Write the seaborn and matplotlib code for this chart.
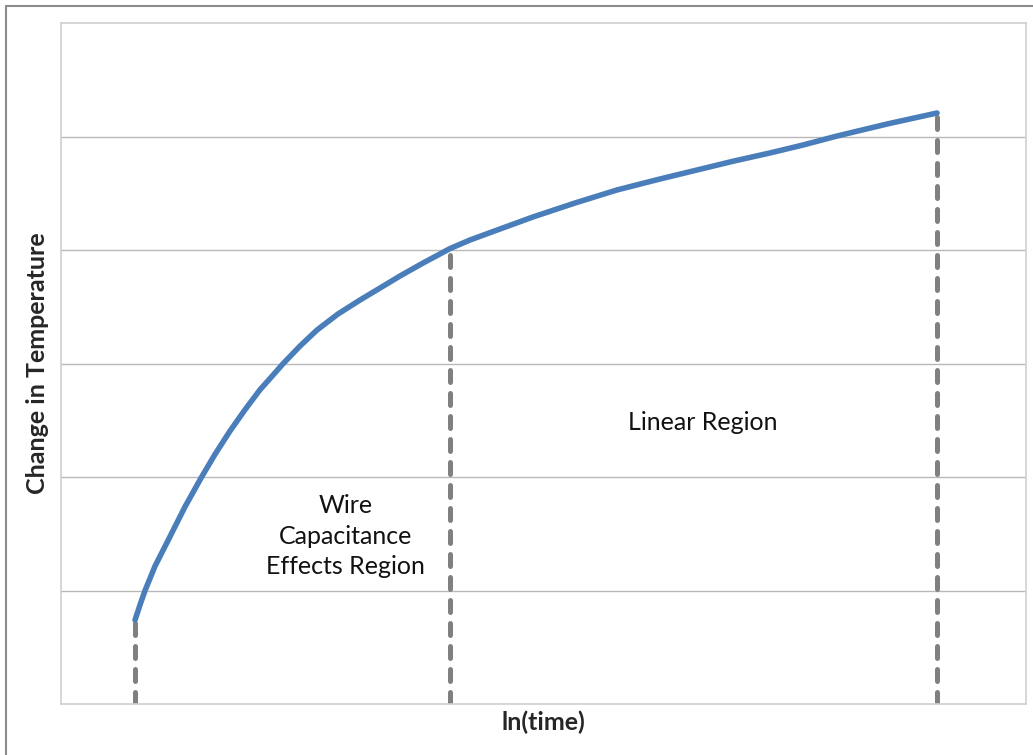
import matplotlib
matplotlib.use("Agg")
import matplotlib.pyplot as plt
from matplotlib.lines import Line2D
import seaborn as sns
import pandas as pd

# Temperature rise vs ln(time) for a transient hot-wire measurement
ln_time = [0.767, 0.819, 0.870, 0.974, 1.130, 1.285, 1.451, 1.596, 1.751,
           1.907, 2.062, 2.187, 2.301, 2.477, 2.653, 2.870, 3.098, 3.306,
           3.513, 3.751, 4.030, 4.238, 4.549, 4.891, 5.326, 5.762, 6.176,
           6.591, 6.964, 7.347, 7.689, 8.041, 8.560, 9.078]
delta_temp = [0.740, 0.874, 0.998, 1.214, 1.476, 1.738, 1.991, 2.200, 2.405,
              2.593, 2.769, 2.888, 2.998, 3.154, 3.295, 3.436, 3.559, 3.665,
              3.771, 3.885, 4.012, 4.088, 4.185, 4.291, 4.414, 4.529, 4.619,
              4.705, 4.782, 4.855, 4.925, 5.004, 5.110, 5.207]

# region boundaries (start, end of capacitance region, end of data)
boundaries = [0.767, 4.030, 9.078]
boundary_temps = [0.740, 4.012, 5.207]

region_labels = ["Wire\nCapacitance\nEffects Region", "Linear Region"]
x_label = "ln(time)"
y_label = "Change in Temperature"
y_grid = [1, 2, 3, 4, 5]

sns.set_style("whitegrid", {"grid.color": "#b8b8b8", "axes.edgecolor": "#d0d0d0"})
plt.rcParams["font.family"] = ["Lato", "DejaVu Sans"]

fig = plt.figure(figsize=(10.33, 7.55), dpi=100)
ax = fig.add_axes([61 / 1033, 51 / 755, 965 / 1033, 681 / 755])

df = pd.DataFrame({"ln_time": ln_time, "delta_temp": delta_temp})

# dashed boundaries from the axis up to the curve
for bx, by in zip(boundaries, boundary_temps):
    ax.plot([bx, bx], [0, by], color="#808080", lw=3.6,
            dashes=(2.4, 2.2), dash_capstyle="round", solid_capstyle="round",
            zorder=2)

sns.lineplot(data=df, x="ln_time", y="delta_temp", ax=ax, color="#4a7ebb",
             lw=4.0, solid_capstyle="round", solid_joinstyle="round", zorder=3)

ax.set_xlim(0, 10)
ax.set_ylim(0, 6)
ax.set_yticks(y_grid)
ax.set_yticklabels([])
ax.set_xticks([])
ax.tick_params(length=0)
ax.grid(axis="x", visible=False)
ax.grid(axis="y", lw=1.0)
for side in ax.spines.values():
    side.set_linewidth(1.2)
    side.set_color("#d0d0d0")

ax.set_xlabel(x_label, fontsize=18, fontweight="bold", labelpad=5)
ax.set_ylabel(y_label, fontsize=18, fontweight="bold", labelpad=5)

ax.text(2.95, 1.48, region_labels[0], ha="center", va="center",
        fontsize=18, linespacing=1.42, color="#111111")
ax.text(6.65, 2.476, region_labels[1], ha="center", va="center",
        fontsize=18, color="#111111")

# outer frame on the left and top edges
fig.add_artist(Line2D([6 / 1033, 6 / 1033], [0, 1 - 6 / 755],
                      transform=fig.transFigure, color="#8c8c8c", lw=1.5))
fig.add_artist(Line2D([6 / 1033, 1], [1 - 6 / 755, 1 - 6 / 755],
                      transform=fig.transFigure, color="#8c8c8c", lw=1.5))

fig.savefig("out.png", dpi=100)
